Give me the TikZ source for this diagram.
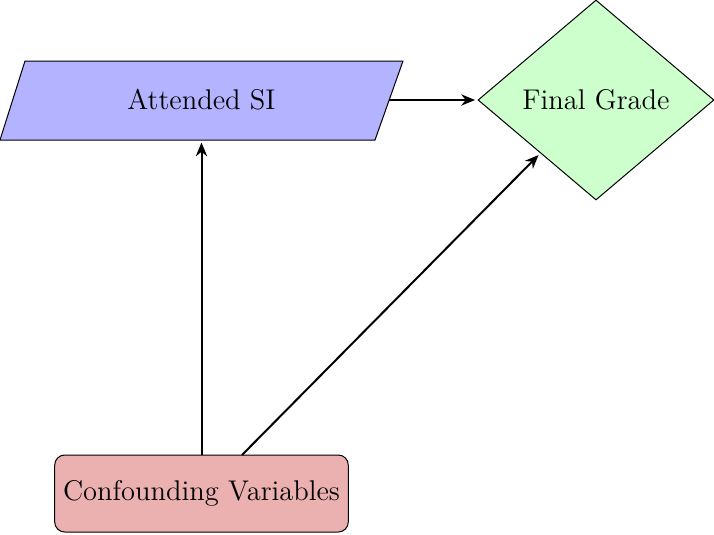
\documentclass[tikz,border=0pt]{standalone}
\usetikzlibrary{shapes.geometric,arrows.meta,calc}
\definecolor{siblue}{RGB}{179,179,255}
\definecolor{fggreen}{RGB}{204,255,204}
\definecolor{cfred}{RGB}{235,176,176}
\tikzset{
  conn/.style={thick,-{Stealth[length=5.5pt,width=4.5pt]},shorten >=1pt},
  every node/.style={font=\fontsize{11.4pt}{13.5pt}\selectfont},
}
\begin{document}
\begin{tikzpicture}[x=0.4pt,y=-0.4pt]
\useasboundingbox (0,0) rectangle (714,534);
% Attended SI parallelogram
\coordinate (siTL) at (25,61);
\coordinate (siTR) at (403,61);
\coordinate (siBR) at (375,140);
\coordinate (siBL) at (0,140);
\filldraw[fill=siblue,draw=black] (siTL) -- (siTR) -- (siBR) -- (siBL) -- cycle;
\node (si) at (201.5,100) {Attended SI};
\coordinate (siR) at (389,100);
% Final Grade diamond
\node[diamond,draw,fill=fggreen,minimum width=94.4pt,minimum height=80pt,aspect=1.18,inner sep=0pt] (fg) at (596,100) {Final Grade};
% Confounding
\node[draw,fill=cfred,rounded corners=4pt,minimum width=117.2pt,minimum height=30.8pt] (cf) at (201.5,493.5) {Confounding Variables};
\coordinate (siB) at (201.5,140);
\coordinate (cfS) at (242,455);
\coordinate (fgT) at ($(fg.west)!0.53!(fg.south)$);
\draw[conn] (siR) -- (siR -| fg.west);
\draw[conn] (cf.north) -- (siB);
\draw[conn] (cfS) -- (fgT);
\end{tikzpicture}
\end{document}
